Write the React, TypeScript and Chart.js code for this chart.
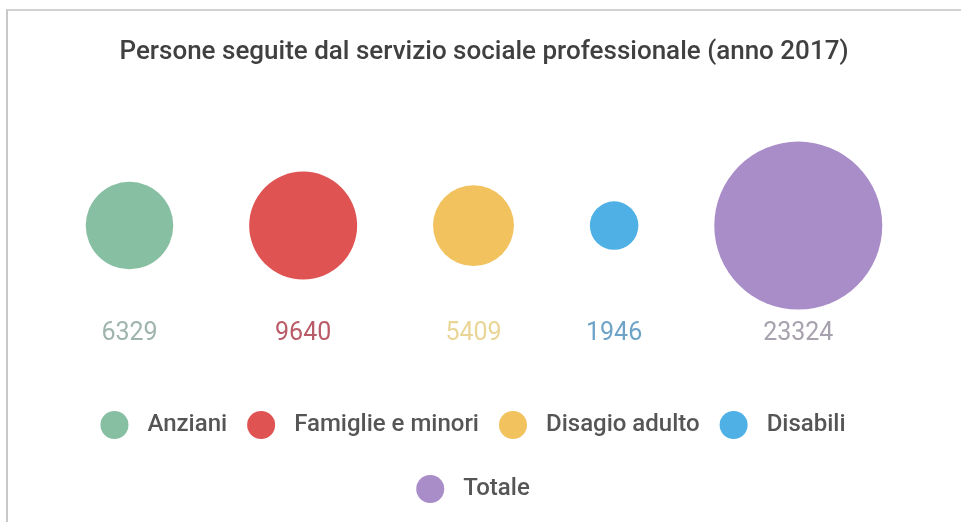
import React, { useEffect, useRef } from 'react';
import { Chart, registerables } from 'chart.js';

Chart.register(...registerables);

// ---- data ----
const categories = ['Anziani', 'Famiglie e minori', 'Disagio adulto', 'Disabili', 'Totale'];
const values = [6329, 9640, 5409, 1946, 23324];
const colors = ['#86bfa1', '#e05353', '#f1c25e', '#4eb0e5', '#a98dc8'];
const labelColors = ['#9fb5ac', '#b95c68', '#e9d697', '#6ea3c8', '#a8a1ae'];
const titleText = 'Persone seguite dal servizio sociale professionale (anno 2017)';

// ---- layout constants ----
const W = 961;
const H = 522;
const PX_PER_UNIT = 0.55; // bubble area proportional to value
const GAP_UNITS = 138; // gap between bubbles, in x units
const PAD_L = 40;
const PAD_R = 33;
const RIGHT_SPACER = 22; // invisible right axis, shifts the legend a little left
const ROW_CENTER_PX = 484;
const LABEL_OFFSET = 108;
const MARKER_R = 14;

// bubble packing: radius in units = sqrt(value)
const sizes = values.map((v) => Math.sqrt(v));
const centers: number[] = [];
let cursorU = 0;
sizes.forEach((s, i) => {
  cursorU += (i === 0 ? 0 : GAP_UNITS) + s;
  centers.push(cursorU);
  cursorU += s;
});
const span = cursorU;
const areaW = W - PAD_L - PAD_R - RIGHT_SPACER;
const xMin = span / 2 - (ROW_CENTER_PX - PAD_L) / PX_PER_UNIT;
const xMax = xMin + areaW / PX_PER_UNIT;

const valueLabelsPlugin = {
  id: 'valueLabels',
  afterDatasetsDraw(chart: any) {
    const ctx = chart.ctx;
    const y = chart.scales.y.getPixelForValue(0) + LABEL_OFFSET;
    ctx.save();
    ctx.font = '400 25px Roboto';
    ctx.textAlign = 'center';
    ctx.textBaseline = 'middle';
    chart.data.datasets.forEach((_ds: any, i: number) => {
      const el = chart.getDatasetMeta(i).data[0];
      if (!el) return;
      ctx.fillStyle = labelColors[i];
      ctx.fillText(String(values[i]), el.x, y);
    });
    ctx.restore();
  },
};

const legendMarkersPlugin = {
  id: 'legendMarkers',
  afterDraw(chart: any) {
    const legend = chart.legend;
    if (!legend || !legend.legendHitBoxes) return;
    const ctx = chart.ctx;
    ctx.save();
    legend.legendHitBoxes.forEach((hb: any, i: number) => {
      const item = legend.legendItems[i];
      ctx.beginPath();
      ctx.arc(hb.left + MARKER_R, hb.top + hb.height / 2, MARKER_R, 0, Math.PI * 2);
      ctx.fillStyle = colors[item.datasetIndex];
      ctx.fill();
    });
    ctx.restore();
  },
};

export default function App() {
  const canvasRef = useRef<HTMLCanvasElement | null>(null);

  useEffect(() => {
    if (!canvasRef.current) return;
    const chart = new Chart(canvasRef.current, {
      type: 'bubble',
      data: {
        datasets: categories.map((c, i) => ({
          label: c,
          data: [{ x: centers[i], y: 0, r: sizes[i] * PX_PER_UNIT }],
          backgroundColor: colors[i],
          borderWidth: 0,
          hoverRadius: 0,
          hoverBorderWidth: 0,
          clip: false,
        })),
      },
      options: {
        responsive: false,
        animation: false,
        events: [],
        layout: { autoPadding: false, padding: { left: PAD_L, right: PAD_R, top: 0, bottom: 1 } },
        scales: {
          x: { type: 'linear', display: false, min: xMin, max: xMax },
          y: {
            type: 'linear',
            display: true,
            position: 'right',
            min: -1,
            max: 1,
            grid: { display: false },
            border: { display: false },
            ticks: { display: false },
            afterFit: (scale: any) => {
              scale.width = RIGHT_SPACER;
            },
          },
        },
        plugins: {
          title: {
            display: true,
            text: titleText,
            color: '#404040',
            font: { family: 'Roboto', size: 26, weight: '500' },
            padding: { top: 37, bottom: 0 },
          },
          legend: {
            position: 'bottom',
            fullSize: false,
            labels: {
              boxWidth: 35,
              boxHeight: 44,
              padding: 20,
              color: '#555555',
              font: { family: 'Roboto', size: 24, weight: '500' },
              generateLabels: (ch: any) =>
                ch.data.datasets.map((ds: any, i: number) => ({
                  text: ds.label,
                  fillStyle: 'rgba(0,0,0,0)',
                  strokeStyle: 'rgba(0,0,0,0)',
                  lineWidth: 0,
                  hidden: false,
                  fontColor: '#555555',
                  datasetIndex: i,
                })),
            },
          },
          tooltip: { enabled: false },
        },
      } as any,
      plugins: [valueLabelsPlugin, legendMarkersPlugin],
    });
    return () => chart.destroy();
  }, []);

  return (
    <div style={{ position: 'absolute', left: 0, top: 0, width: W, height: H, background: '#ffffff' }}>
      <div
        style={{
          position: 'absolute',
          left: 6,
          top: 9,
          right: 0,
          bottom: 0,
          borderLeft: '2px solid #c8c8c8',
          borderTop: '2px solid #d2d2d2',
        }}
      />
      <canvas ref={canvasRef} width={W} height={H} style={{ position: 'absolute', left: 0, top: 0 }} />
    </div>
  );
}
